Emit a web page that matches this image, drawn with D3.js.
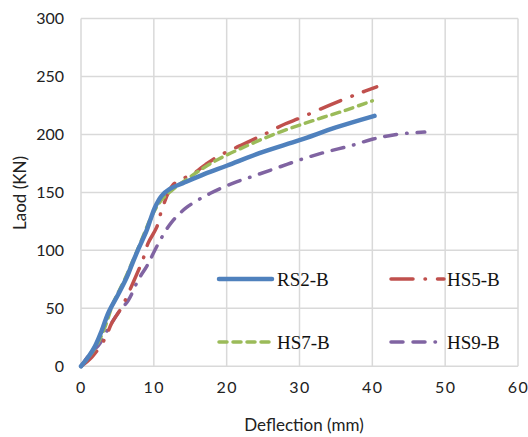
<!DOCTYPE html>
<html><head><meta charset="utf-8">
<script src="https://cdn.jsdelivr.net/npm/d3@7"></script>
<style>body{margin:0;background:#fff}svg{display:block}</style>
</head><body>
<script>
const xTicks = [0,10,20,30,40,50,60];
const yTicks = [0,50,100,150,200,250,300];
const seriesNames = ["RS2-B","HS5-B","HS7-B","HS9-B"];
const rs2X = [0,1.0,1.9,2.8,3.75,5.1,6.3,7.0,7.8,9.0,9.5,10.15,11.07,12.2,14.0,17,20,25,30,35,40.3];
const rs2Y = [0,8,17,30,46,62,77,88,100,117,126,137,147,153,158,166,173,185,195,206,216];
const hs5X = [0,1.5,3.3,4.2,5.6,6.5,7.9,8.5,9.2,10.4,11.1,12.7,15.4,17.1,18.8,21.4,24.8,28,30,34.4,38,40.6];
const hs5Y = [0,8,24,37,51,63,83,92,106,120,135,157,166,174,181,189,199,209,214,226,235,241];
const hs7X = [0,1.2,2.4,3.3,4.4,6.0,7.6,9.9,11.0,12.5,14,18.1,22.7,27.3,31.9,36.4,40];
const hs7Y = [0,9,21,34,54,75,98,132,143,152,159,176,190,202,212,221,229];
const hs9X = [0,0.55,1.7,2.4,3.6,5.1,6.5,7.9,9.0,9.5,10.8,12.4,14.5,17.7,20.9,24.1,27.3,30.5,33.7,36.9,40.1,43.3,47.2];
const hs9Y = [0,5,14,18,31,46,57,75,86,92,108,124,137,149,158,165,172,179,185,190,196,200,202];

const W=528,H=437;
const m={left:81,right:518,top:18.5,bottom:366.3};
const svg=d3.select("body").append("svg").attr("width",W).attr("height",H);
const x=d3.scaleLinear().domain([0,60]).range([m.left,m.right]);
const y=d3.scaleLinear().domain([0,300]).range([m.bottom,m.top]);
const font="Lato, 'Open Sans', sans-serif";

// gridlines
const g=svg.append("g");
g.selectAll("line.h").data(yTicks).join("line").attr("class","h")
  .attr("x1",m.left).attr("x2",m.right).attr("y1",d=>y(d)).attr("y2",d=>y(d))
  .attr("stroke","#d9d9d9").attr("stroke-width",1.5);
g.selectAll("line.v").data(xTicks).join("line").attr("class","v")
  .attr("y1",m.top).attr("y2",m.bottom).attr("x1",d=>x(d)).attr("x2",d=>x(d))
  .attr("stroke","#d9d9d9").attr("stroke-width",1.5);

// axes
const ya=svg.append("g").attr("transform",`translate(${m.left-17},0)`)
  .call(d3.axisLeft(y).tickValues(yTicks).tickSize(0).tickPadding(0));
ya.select(".domain").remove();
ya.selectAll("text").attr("font-family",font).attr("font-size",16).attr("fill","#222");
const xa=svg.append("g").attr("transform",`translate(0,${m.bottom+15})`)
  .call(d3.axisBottom(x).tickValues(xTicks).tickSize(0).tickPadding(0));
xa.select(".domain").remove();
xa.selectAll("text").attr("font-family",font).attr("font-size",16).attr("fill","#222")
  .attr("letter-spacing","1.5px");

svg.append("text").attr("x",304).attr("y",431).attr("text-anchor","middle")
  .attr("font-family",font).attr("font-size",17).attr("fill","#222").text("Deflection (mm)");
svg.append("text").attr("transform","translate(26,193) rotate(-90)").attr("text-anchor","middle")
  .attr("font-family",font).attr("font-size",17).attr("fill","#222").text("Laod (KN)");

// series
const styles=[
  {c:"#4f81bd",w:4.5,d:null},
  {c:"#c0504d",w:3.5,d:"22,12,0.5,12"},
  {c:"#9bbb59",w:3.5,d:"8,6"},
  {c:"#8064a2",w:3.5,d:"12,10,12,10,0.5,10"}
];
const data=[[rs2X,rs2Y],[hs5X,hs5Y],[hs7X,hs7Y],[hs9X,hs9Y]].map(([xs,ys])=>xs.map((v,i)=>[v,ys[i]]));
const line=d3.line().x(d=>x(d[0])).y(d=>y(d[1])).curve(d3.curveCatmullRom.alpha(0.5));
const order=[3,1,2,0];
order.forEach(i=>{
  svg.append("path").datum(data[i]).attr("d",line).attr("fill","none")
    .attr("stroke",styles[i].c).attr("stroke-width",styles[i].w)
    .attr("stroke-linecap","round").attr("stroke-linejoin","round")
    .attr("stroke-dasharray",styles[i].d);
});

// legend
const legPos=[[218,279],[390,279],[218,342],[390,342]];
seriesNames.forEach((n,i)=>{
  const [lx,ly]=legPos[i];
  svg.append("line").attr("x1",lx+1).attr("x2",lx+54).attr("y1",ly).attr("y2",ly)
    .attr("stroke",styles[i].c).attr("stroke-width",styles[i].w)
    .attr("stroke-linecap","round").attr("stroke-dasharray",styles[i].d);
  svg.append("text").attr("x",i%2===0?lx+59:lx+57).attr("y",ly+7)
    .attr("font-family","'Liberation Serif', serif").attr("font-size",19).attr("fill","#111").text(n);
});
</script>
</body></html>
